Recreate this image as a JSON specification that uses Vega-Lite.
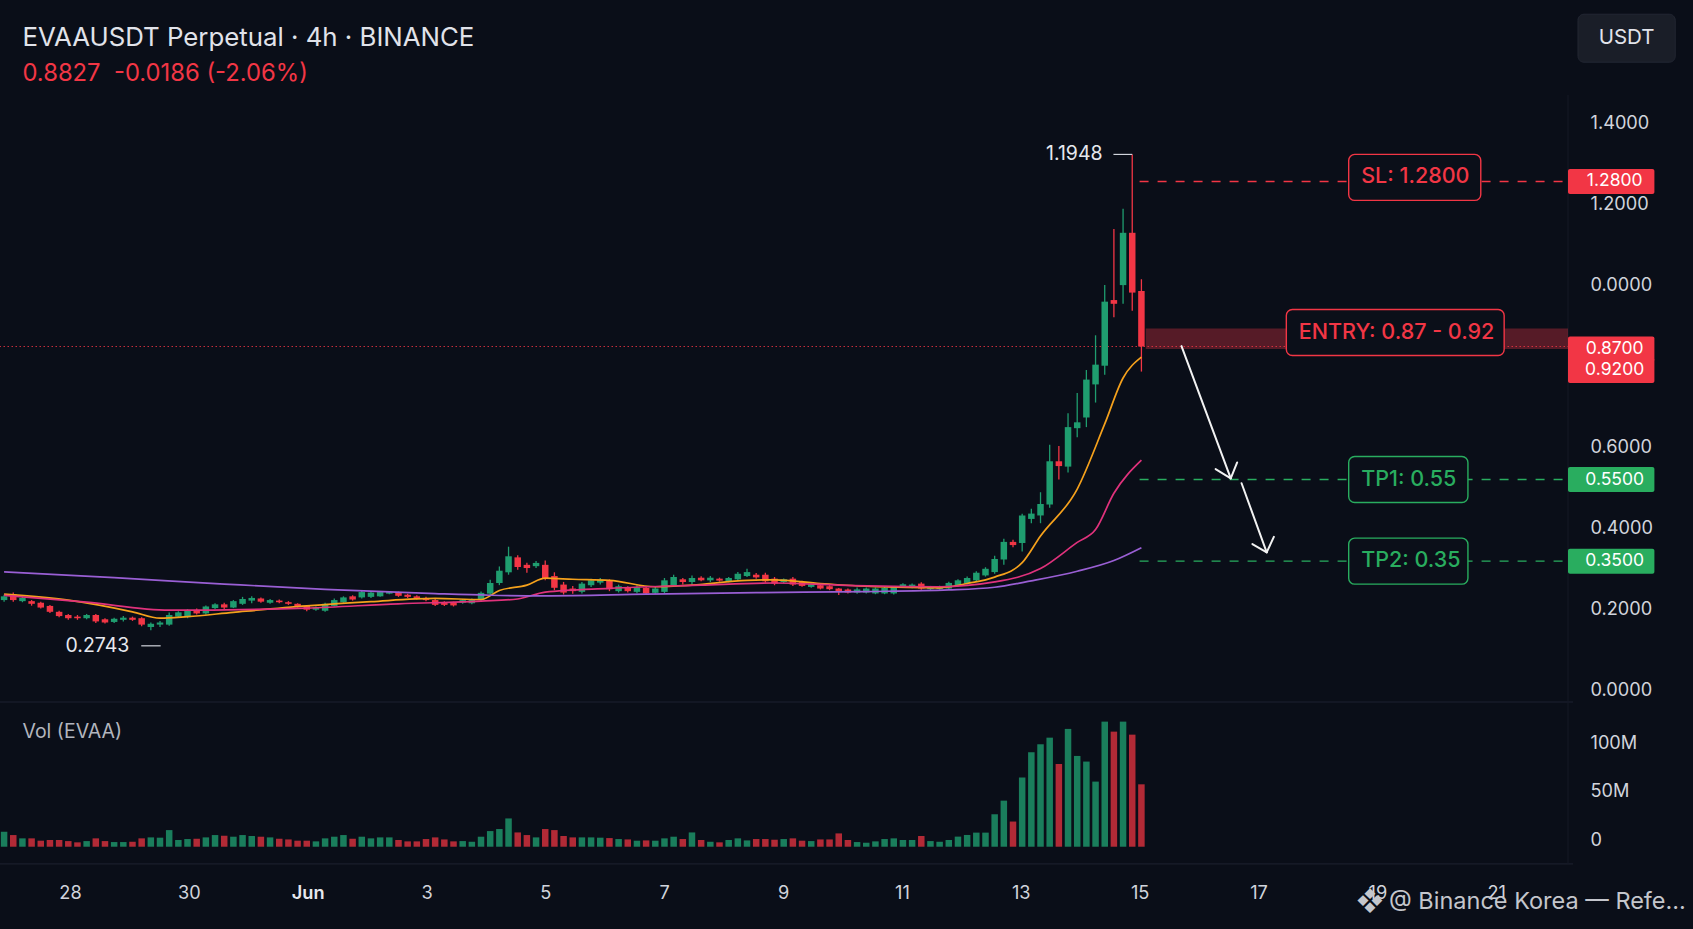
{
  "$schema": "https://vega.github.io/schema/vega-lite/v6.json",
  "description": "EVAAUSDT perpetual 4h candles with moving averages, volume pane and a short setup drawn on top (SL, entry zone, two targets).",
  "width": 1573,
  "height": 769,
  "autosize": {"type": "none"},
  "padding": {"left": 0, "top": 95, "right": 120, "bottom": 65},
  "background": "#0a0e18",
  "config": {"view": {"stroke": null}, "font": "Inter"},
  "datasets": {
    "candles": [
      {"bar":0,"open":0.360,"high":0.370,"low":0.357,"close":0.367,"volume":15400000},
      {"bar":1,"open":0.371,"high":0.374,"low":0.357,"close":0.360,"volume":12000000},
      {"bar":2,"open":0.358,"high":0.366,"low":0.356,"close":0.364,"volume":8600000},
      {"bar":3,"open":0.358,"high":0.360,"low":0.3495,"close":0.353,"volume":8600000},
      {"bar":4,"open":0.355,"high":0.357,"low":0.344,"close":0.346,"volume":6200000},
      {"bar":5,"open":0.349,"high":0.351,"low":0.336,"close":0.338,"volume":6900000},
      {"bar":6,"open":0.338,"high":0.340,"low":0.328,"close":0.330,"volume":6900000},
      {"bar":7,"open":0.332,"high":0.334,"low":0.323,"close":0.326,"volume":5800000},
      {"bar":8,"open":0.329,"high":0.332,"low":0.323,"close":0.326,"volume":4500000},
      {"bar":9,"open":0.326,"high":0.334,"low":0.324,"close":0.332,"volume":5800000},
      {"bar":10,"open":0.332,"high":0.334,"low":0.317,"close":0.320,"volume":8600000},
      {"bar":11,"open":0.324,"high":0.326,"low":0.316,"close":0.318,"volume":5800000},
      {"bar":12,"open":0.319,"high":0.327,"low":0.317,"close":0.325,"volume":4800000},
      {"bar":13,"open":0.323,"high":0.330,"low":0.320,"close":0.327,"volume":4800000},
      {"bar":14,"open":0.327,"high":0.329,"low":0.321,"close":0.323,"volume":5100000},
      {"bar":15,"open":0.326,"high":0.328,"low":0.311,"close":0.314,"volume":8600000},
      {"bar":16,"open":0.3095,"high":0.318,"low":0.3033,"close":0.3156,"volume":9600000},
      {"bar":17,"open":0.314,"high":0.321,"low":0.3095,"close":0.318,"volume":9300000},
      {"bar":18,"open":0.314,"high":0.3366,"low":0.312,"close":0.332,"volume":17100000},
      {"bar":19,"open":0.329,"high":0.339,"low":0.327,"close":0.337,"volume":6900000},
      {"bar":20,"open":0.328,"high":0.343,"low":0.326,"close":0.340,"volume":7900000},
      {"bar":21,"open":0.3415,"high":0.344,"low":0.333,"close":0.335,"volume":8200000},
      {"bar":22,"open":0.335,"high":0.350,"low":0.333,"close":0.348,"volume":9600000},
      {"bar":23,"open":0.345,"high":0.354,"low":0.343,"close":0.352,"volume":12000000},
      {"bar":24,"open":0.352,"high":0.355,"low":0.343,"close":0.346,"volume":11300000},
      {"bar":25,"open":0.346,"high":0.360,"low":0.345,"close":0.358,"volume":10300000},
      {"bar":26,"open":0.353,"high":0.366,"low":0.351,"close":0.362,"volume":12000000},
      {"bar":27,"open":0.359,"high":0.367,"low":0.354,"close":0.364,"volume":11000000},
      {"bar":28,"open":0.363,"high":0.365,"low":0.355,"close":0.357,"volume":10300000},
      {"bar":29,"open":0.355,"high":0.362,"low":0.353,"close":0.360,"volume":9600000},
      {"bar":30,"open":0.359,"high":0.361,"low":0.354,"close":0.356,"volume":8200000},
      {"bar":31,"open":0.356,"high":0.358,"low":0.351,"close":0.353,"volume":7500000},
      {"bar":32,"open":0.353,"high":0.354,"low":0.346,"close":0.348,"volume":6200000},
      {"bar":33,"open":0.349,"high":0.351,"low":0.339,"close":0.342,"volume":6200000},
      {"bar":34,"open":0.342,"high":0.348,"low":0.340,"close":0.346,"volume":5500000},
      {"bar":35,"open":0.340,"high":0.355,"low":0.338,"close":0.353,"volume":8600000},
      {"bar":36,"open":0.349,"high":0.363,"low":0.348,"close":0.360,"volume":10300000},
      {"bar":37,"open":0.356,"high":0.367,"low":0.355,"close":0.365,"volume":12000000},
      {"bar":38,"open":0.367,"high":0.369,"low":0.359,"close":0.361,"volume":8200000},
      {"bar":39,"open":0.365,"high":0.378,"low":0.363,"close":0.375,"volume":10300000},
      {"bar":40,"open":0.366,"high":0.376,"low":0.364,"close":0.374,"volume":8600000},
      {"bar":41,"open":0.367,"high":0.377,"low":0.366,"close":0.375,"volume":9600000},
      {"bar":42,"open":0.372,"high":0.377,"low":0.371,"close":0.375,"volume":9600000},
      {"bar":43,"open":0.374,"high":0.376,"low":0.366,"close":0.368,"volume":6900000},
      {"bar":44,"open":0.370,"high":0.372,"low":0.364,"close":0.366,"volume":5500000},
      {"bar":45,"open":0.367,"high":0.369,"low":0.361,"close":0.362,"volume":5500000},
      {"bar":46,"open":0.364,"high":0.366,"low":0.358,"close":0.360,"volume":7900000},
      {"bar":47,"open":0.360,"high":0.362,"low":0.349,"close":0.351,"volume":9600000},
      {"bar":48,"open":0.356,"high":0.358,"low":0.349,"close":0.351,"volume":7500000},
      {"bar":49,"open":0.355,"high":0.357,"low":0.348,"close":0.350,"volume":5500000},
      {"bar":50,"open":0.355,"high":0.362,"low":0.353,"close":0.360,"volume":5800000},
      {"bar":51,"open":0.354,"high":0.363,"low":0.352,"close":0.361,"volume":5100000},
      {"bar":52,"open":0.360,"high":0.376,"low":0.358,"close":0.3735,"volume":10300000},
      {"bar":53,"open":0.372,"high":0.398,"low":0.369,"close":0.392,"volume":16100000},
      {"bar":54,"open":0.392,"high":0.423,"low":0.388,"close":0.415,"volume":18200000},
      {"bar":55,"open":0.412,"high":0.460,"low":0.4075,"close":0.442,"volume":29100000},
      {"bar":56,"open":0.440,"high":0.444,"low":0.417,"close":0.422,"volume":14700000},
      {"bar":57,"open":0.426,"high":0.430,"low":0.411,"close":0.420,"volume":12000000},
      {"bar":58,"open":0.4235,"high":0.433,"low":0.420,"close":0.4296,"volume":9600000},
      {"bar":59,"open":0.426,"high":0.434,"low":0.397,"close":0.401,"volume":18200000},
      {"bar":60,"open":0.405,"high":0.412,"low":0.3785,"close":0.383,"volume":17100000},
      {"bar":61,"open":0.389,"high":0.394,"low":0.3705,"close":0.374,"volume":11000000},
      {"bar":62,"open":0.3816,"high":0.3865,"low":0.3717,"close":0.3767,"volume":9600000},
      {"bar":63,"open":0.3754,"high":0.3939,"low":0.3724,"close":0.3908,"volume":9600000},
      {"bar":64,"open":0.3878,"high":0.4001,"low":0.3847,"close":0.397,"volume":9600000},
      {"bar":65,"open":0.3927,"high":0.4013,"low":0.389,"close":0.3982,"volume":9300000},
      {"bar":66,"open":0.3958,"high":0.3988,"low":0.3767,"close":0.3804,"volume":8900000},
      {"bar":67,"open":0.3767,"high":0.389,"low":0.3742,"close":0.3859,"volume":7900000},
      {"bar":68,"open":0.3841,"high":0.3859,"low":0.3742,"close":0.3767,"volume":7500000},
      {"bar":69,"open":0.3754,"high":0.3878,"low":0.373,"close":0.3841,"volume":6200000},
      {"bar":70,"open":0.3828,"high":0.3847,"low":0.3705,"close":0.3724,"volume":6500000},
      {"bar":71,"open":0.3736,"high":0.3847,"low":0.3717,"close":0.3816,"volume":6200000},
      {"bar":72,"open":0.3754,"high":0.4013,"low":0.3724,"close":0.397,"volume":8600000},
      {"bar":73,"open":0.3878,"high":0.4075,"low":0.3865,"close":0.4032,"volume":10300000},
      {"bar":74,"open":0.3989,"high":0.4013,"low":0.389,"close":0.3939,"volume":7900000},
      {"bar":75,"open":0.3939,"high":0.4062,"low":0.389,"close":0.4013,"volume":14700000},
      {"bar":76,"open":0.4019,"high":0.4044,"low":0.3952,"close":0.397,"volume":6900000},
      {"bar":77,"open":0.397,"high":0.405,"low":0.3939,"close":0.4019,"volume":5100000},
      {"bar":78,"open":0.4001,"high":0.402,"low":0.3945,"close":0.3964,"volume":4500000},
      {"bar":79,"open":0.3952,"high":0.403,"low":0.3935,"close":0.4013,"volume":6900000},
      {"bar":80,"open":0.3989,"high":0.4124,"low":0.397,"close":0.4093,"volume":8600000},
      {"bar":81,"open":0.405,"high":0.4186,"low":0.4032,"close":0.4124,"volume":6500000},
      {"bar":82,"open":0.4075,"high":0.4106,"low":0.4001,"close":0.4025,"volume":7900000},
      {"bar":83,"open":0.4075,"high":0.4112,"low":0.3927,"close":0.3952,"volume":7900000},
      {"bar":84,"open":0.4001,"high":0.4032,"low":0.3878,"close":0.3908,"volume":7200000},
      {"bar":85,"open":0.3939,"high":0.4005,"low":0.392,"close":0.3989,"volume":7900000},
      {"bar":86,"open":0.4001,"high":0.4032,"low":0.3865,"close":0.389,"volume":8600000},
      {"bar":87,"open":0.3939,"high":0.396,"low":0.385,"close":0.3865,"volume":6200000},
      {"bar":88,"open":0.3847,"high":0.3915,"low":0.383,"close":0.3896,"volume":5800000},
      {"bar":89,"open":0.3878,"high":0.3895,"low":0.38,"close":0.3816,"volume":7500000},
      {"bar":90,"open":0.3859,"high":0.3878,"low":0.3785,"close":0.3804,"volume":7500000},
      {"bar":91,"open":0.3816,"high":0.3828,"low":0.3693,"close":0.3754,"volume":13700000},
      {"bar":92,"open":0.3798,"high":0.3815,"low":0.3725,"close":0.3742,"volume":6900000},
      {"bar":93,"open":0.3742,"high":0.3835,"low":0.372,"close":0.38,"volume":4800000},
      {"bar":94,"open":0.3742,"high":0.3835,"low":0.3725,"close":0.3816,"volume":4100000},
      {"bar":95,"open":0.3724,"high":0.3835,"low":0.371,"close":0.3816,"volume":5500000},
      {"bar":96,"open":0.3724,"high":0.385,"low":0.371,"close":0.3828,"volume":7900000},
      {"bar":97,"open":0.3724,"high":0.3865,"low":0.3705,"close":0.3847,"volume":8600000},
      {"bar":98,"open":0.3841,"high":0.3915,"low":0.3825,"close":0.3896,"volume":6900000},
      {"bar":99,"open":0.3835,"high":0.391,"low":0.382,"close":0.389,"volume":6900000},
      {"bar":100,"open":0.3908,"high":0.3935,"low":0.3795,"close":0.3816,"volume":11000000},
      {"bar":101,"open":0.3804,"high":0.3865,"low":0.379,"close":0.3847,"volume":5800000},
      {"bar":102,"open":0.3806,"high":0.387,"low":0.3795,"close":0.3849,"volume":5100000},
      {"bar":103,"open":0.3816,"high":0.3945,"low":0.38,"close":0.3921,"volume":6900000},
      {"bar":104,"open":0.3865,"high":0.399,"low":0.385,"close":0.397,"volume":10400000},
      {"bar":105,"open":0.3908,"high":0.404,"low":0.389,"close":0.4013,"volume":12100000},
      {"bar":106,"open":0.397,"high":0.414,"low":0.395,"close":0.4112,"volume":14500000},
      {"bar":107,"open":0.4062,"high":0.4215,"low":0.404,"close":0.4186,"volume":14500000},
      {"bar":108,"open":0.4124,"high":0.4432,"low":0.4093,"close":0.437,"volume":33400000},
      {"bar":109,"open":0.436,"high":0.475,"low":0.426,"close":0.469,"volume":47400000},
      {"bar":110,"open":0.469,"high":0.473,"low":0.459,"close":0.463,"volume":25900000},
      {"bar":111,"open":0.467,"high":0.5215,"low":0.451,"close":0.5185,"volume":71100000},
      {"bar":112,"open":0.512,"high":0.531,"low":0.504,"close":0.522,"volume":97200000},
      {"bar":113,"open":0.5185,"high":0.562,"low":0.504,"close":0.54,"volume":105400000},
      {"bar":114,"open":0.539,"high":0.651,"low":0.533,"close":0.62,"volume":112200000},
      {"bar":115,"open":0.62,"high":0.6485,"low":0.586,"close":0.611,"volume":85100000},
      {"bar":116,"open":0.61,"high":0.71,"low":0.599,"close":0.684,"volume":121200000},
      {"bar":117,"open":0.682,"high":0.748,"low":0.665,"close":0.693,"volume":93400000},
      {"bar":118,"open":0.702,"high":0.791,"low":0.684,"close":0.773,"volume":87600000},
      {"bar":119,"open":0.764,"high":0.856,"low":0.73,"close":0.801,"volume":67000000},
      {"bar":120,"open":0.799,"high":0.95,"low":0.782,"close":0.919,"volume":128700000},
      {"bar":121,"open":0.922,"high":1.055,"low":0.89,"close":0.915,"volume":118400000},
      {"bar":122,"open":0.95,"high":1.093,"low":0.915,"close":1.048,"volume":128700000},
      {"bar":123,"open":1.048,"high":1.1948,"low":0.902,"close":0.936,"volume":115300000},
      {"bar":124,"open":0.939,"high":0.961,"low":0.788,"close":0.835,"volume":64200000}
    ],
    "ma": [
      {"bar":0,"line":"fast","value":0.371},{"bar":7,"line":"fast","value":0.360},{"bar":14,"line":"fast","value":0.338},
      {"bar":17,"line":"fast","value":0.326},{"bar":20,"line":"fast","value":0.329},{"bar":25,"line":"fast","value":0.337},
      {"bar":33,"line":"fast","value":0.349},{"bar":40,"line":"fast","value":0.357},{"bar":47,"line":"fast","value":0.363},
      {"bar":52,"line":"fast","value":0.361},{"bar":54,"line":"fast","value":0.378},{"bar":57,"line":"fast","value":0.388},
      {"bar":59,"line":"fast","value":0.401},{"bar":62,"line":"fast","value":0.399},{"bar":66,"line":"fast","value":0.397},
      {"bar":71,"line":"fast","value":0.385},{"bar":75,"line":"fast","value":0.388},{"bar":81,"line":"fast","value":0.397},
      {"bar":84,"line":"fast","value":0.398},{"bar":89,"line":"fast","value":0.391},{"bar":95,"line":"fast","value":0.385},
      {"bar":102,"line":"fast","value":0.383},{"bar":105,"line":"fast","value":0.391},{"bar":108,"line":"fast","value":0.403},
      {"bar":111,"line":"fast","value":0.430},{"bar":113,"line":"fast","value":0.480},{"bar":117,"line":"fast","value":0.568},
      {"bar":120,"line":"fast","value":0.690},{"bar":122,"line":"fast","value":0.776},{"bar":124,"line":"fast","value":0.815},
      {"bar":0,"line":"mid","value":0.369},{"bar":9,"line":"mid","value":0.356},{"bar":18,"line":"mid","value":0.341},
      {"bar":33,"line":"mid","value":0.345},{"bar":43,"line":"mid","value":0.353},{"bar":52,"line":"mid","value":0.358},
      {"bar":56,"line":"mid","value":0.362},{"bar":59,"line":"mid","value":0.375},{"bar":66,"line":"mid","value":0.382},
      {"bar":76,"line":"mid","value":0.388},{"bar":84,"line":"mid","value":0.392},{"bar":91,"line":"mid","value":0.388},
      {"bar":102,"line":"mid","value":0.385},{"bar":108,"line":"mid","value":0.394},{"bar":113,"line":"mid","value":0.419},
      {"bar":117,"line":"mid","value":0.468},{"bar":119,"line":"mid","value":0.492},{"bar":121,"line":"mid","value":0.560},
      {"bar":124,"line":"mid","value":0.622},
      {"bar":0,"line":"slow","value":0.413},{"bar":12,"line":"slow","value":0.402},{"bar":24,"line":"slow","value":0.390},
      {"bar":35,"line":"slow","value":0.380},{"bar":47,"line":"slow","value":0.372},{"bar":53,"line":"slow","value":0.369},
      {"bar":59,"line":"slow","value":0.368},{"bar":70,"line":"slow","value":0.371},{"bar":82,"line":"slow","value":0.374},
      {"bar":94,"line":"slow","value":0.376},{"bar":103,"line":"slow","value":0.379},{"bar":108,"line":"slow","value":0.384},
      {"bar":112,"line":"slow","value":0.396},{"bar":117,"line":"slow","value":0.414},{"bar":121,"line":"slow","value":0.434},
      {"bar":124,"line":"slow","value":0.458}
    ],
    "days": [
      {"bar":7.24,"day":"28"},{"bar":20.2,"day":"30"},{"bar":33.15,"day":"Jun"},{"bar":46.11,"day":"3"},
      {"bar":59.07,"day":"5"},{"bar":72.03,"day":"7"},{"bar":84.99,"day":"9"},{"bar":97.94,"day":"11"},
      {"bar":110.9,"day":"13"},{"bar":123.86,"day":"15"},{"bar":136.82,"day":"17"},{"bar":149.78,"day":"19"},
      {"bar":162.73,"day":"21"}
    ],
    "extremes": [
      {"kind":"high","bar":123,"price":1.1948},
      {"kind":"low","bar":16,"price":0.2743}
    ],
    "levels": [
      {"level":1.28,"side":"risk"},
      {"level":0.55,"side":"target"},
      {"level":0.35,"side":"target"}
    ],
    "notes": [
      {"label":"SL: 1.2800","at":1.29,"fromBar":146.6,"toBar":161.0,"side":"risk"},
      {"label":"ENTRY: 0.87 - 0.92","at":0.91,"fromBar":139.8,"toBar":163.55,"side":"risk"},
      {"label":"TP1: 0.55","at":0.55,"fromBar":146.6,"toBar":159.6,"side":"target"},
      {"label":"TP2: 0.35","at":0.35,"fromBar":146.6,"toBar":159.6,"side":"target"}
    ],
    "arrows": [
      {"fromBar":128.37,"fromPrice":0.8769,"toBar":133.74,"toPrice":0.5529},
      {"fromBar":133.74,"fromPrice":0.5529,"toBar":132.09,"toPrice":0.5756},
      {"fromBar":133.74,"fromPrice":0.5529,"toBar":134.44,"toPrice":0.5918},
      {"fromBar":134.92,"fromPrice":0.5409,"toBar":137.66,"toPrice":0.3717},
      {"fromBar":137.66,"fromPrice":0.3717,"toBar":136.10,"toPrice":0.3918},
      {"fromBar":137.66,"fromPrice":0.3717,"toBar":138.44,"toPrice":0.4095}
    ],
    "badges": [
      {"level":1.28,"side":"risk"},
      {"level":0.87,"side":"risk"},
      {"level":0.92,"side":"risk"},
      {"level":0.55,"side":"target"},
      {"level":0.35,"side":"target"}
    ]
  },
  "layer": [
    {
      "layer": [
        {
          "data": {"values": [{}]},
          "mark": {"type": "rule", "color": "#1c2130", "strokeWidth": 1.2},
          "encoding": {
            "y": {"datum": 148890000, "type": "quantitative", "scale": {"domain": [-17780000, 773380000], "nice": false, "zero": false}, "axis": null}
          }
        },
        {
          "data": {"values": [{}]},
          "mark": {"type": "rule", "color": "#1a1e2b", "strokeWidth": 1.2},
          "encoding": {
            "y": {"datum": -17700000, "type": "quantitative", "scale": {"domain": [-17780000, 773380000], "nice": false, "zero": false}, "axis": null}
          }
        },
        {
          "data": {"values": [{}]},
          "mark": {"type": "rule", "color": "#151925", "strokeWidth": 1},
          "encoding": {
            "x": {"datum": 170.51, "type": "quantitative", "scale": {"domain": [0.0995, 170.51], "nice": false, "zero": false}, "axis": null}
          }
        },
        {
          "data": {"name": "candles"},
          "mark": {"type": "bar", "orient": "vertical", "size": 6.5, "opacity": 0.78},
          "encoding": {
            "x": {"field": "bar", "type": "quantitative", "scale": {"domain": [0.0995, 170.51], "nice": false, "zero": false}, "axis": null},
            "y": {"field": "volume", "type": "quantitative", "scale": {"domain": [-17780000, 773380000], "nice": false, "zero": false}, "axis": null},
            "y2": {"datum": 0},
            "color": {"condition": {"test": "datum.close >= datum.open", "value": "#1f9d6f"}, "value": "#e2323f"}
          }
        },
        {
          "data": {"name": "days"},
          "transform": [{"filter": "datum.day != 'Jun'"}],
          "mark": {"type": "text", "align": "center", "baseline": "middle", "fontSize": 18.2, "color": "#d1d4dc"},
          "encoding": {
            "x": {"field": "bar", "type": "quantitative", "scale": {"domain": [0.0995, 170.51], "nice": false, "zero": false}, "axis": null},
            "y": {"datum": -48890000, "type": "quantitative", "scale": {"domain": [-17780000, 773380000], "nice": false, "zero": false}, "axis": null},
            "text": {"field": "day"}
          }
        },
        {
          "data": {"name": "days"},
          "transform": [{"filter": "datum.day == 'Jun'"}],
          "mark": {"type": "text", "align": "center", "baseline": "middle", "fontSize": 18.2, "fontWeight": 600, "color": "#e6e8ee"},
          "encoding": {
            "x": {"field": "bar", "type": "quantitative", "scale": {"domain": [0.0995, 170.51], "nice": false, "zero": false}, "axis": null},
            "y": {"datum": -48890000, "type": "quantitative", "scale": {"domain": [-17780000, 773380000], "nice": false, "zero": false}, "axis": null},
            "text": {"field": "day"}
          }
        },
        {
          "data": {"values": [{"label": "Vol (EVAA)"}]},
          "mark": {"type": "text", "align": "left", "baseline": "middle", "fontSize": 19.5, "color": "#b2b5be"},
          "encoding": {
            "x": {"datum": 2.0, "type": "quantitative", "scale": {"domain": [0.0995, 170.51], "nice": false, "zero": false}, "axis": null},
            "y": {"datum": 117780000, "type": "quantitative", "scale": {"domain": [-17780000, 773380000], "nice": false, "zero": false}, "axis": null},
            "text": {"field": "label"}
          }
        },
        {
          "data": {"values": [{"mark": "❖"}]},
          "mark": {"type": "text", "align": "center", "baseline": "middle", "fontSize": 26, "color": "#c4c6cc"},
          "encoding": {
            "x": {"datum": 148.9, "type": "quantitative", "scale": {"domain": [0.0995, 170.51], "nice": false, "zero": false}, "axis": null},
            "y": {"datum": -56670000, "type": "quantitative", "scale": {"domain": [-17780000, 773380000], "nice": false, "zero": false}, "axis": null},
            "text": {"field": "mark"}
          }
        },
        {
          "data": {"values": [{"label": "@ Binance Korea — Refe..."}]},
          "mark": {"type": "text", "align": "left", "baseline": "middle", "fontSize": 23.5, "color": "#c4c6cc"},
          "encoding": {
            "x": {"datum": 151.0, "type": "quantitative", "scale": {"domain": [0.0995, 170.51], "nice": false, "zero": false}, "axis": null},
            "y": {"datum": -56670000, "type": "quantitative", "scale": {"domain": [-17780000, 773380000], "nice": false, "zero": false}, "axis": null},
            "text": {"field": "label"}
          }
        }
      ]
    },
    {
      "layer": [
        {
          "data": {"name": "candles"},
          "transform": [{"filter": "datum.bar == 124"}],
          "mark": {"type": "rule", "color": "#f23645", "strokeDash": [1.5, 2.5], "strokeWidth": 1, "opacity": 0.8},
          "encoding": {
            "y": {"field": "close", "type": "quantitative", "scale": {"domain": [-0.12504, 1.29676], "nice": false, "zero": false}, "axis": null}
          }
        },
        {
          "data": {"name": "candles"},
          "mark": {"type": "rule", "strokeWidth": 1.3},
          "encoding": {
            "x": {"field": "bar", "type": "quantitative", "scale": {"domain": [0.0995, 170.51], "nice": false, "zero": false}, "axis": null},
            "y": {"field": "low", "type": "quantitative", "scale": {"domain": [-0.12504, 1.29676], "nice": false, "zero": false}, "axis": null},
            "y2": {"field": "high"},
            "color": {"condition": {"test": "datum.close >= datum.open", "value": "#1f9d6f"}, "value": "#f23645"}
          }
        },
        {
          "data": {"name": "candles"},
          "mark": {"type": "bar", "orient": "vertical", "size": 6.5},
          "encoding": {
            "x": {"field": "bar", "type": "quantitative", "scale": {"domain": [0.0995, 170.51], "nice": false, "zero": false}, "axis": null},
            "y": {"field": "open", "type": "quantitative", "scale": {"domain": [-0.12504, 1.29676], "nice": false, "zero": false}, "axis": null},
            "y2": {"field": "close"},
            "color": {"condition": {"test": "datum.close >= datum.open", "value": "#1f9d6f"}, "value": "#f23645"}
          }
        },
        {
          "data": {"name": "ma"},
          "mark": {"type": "line", "strokeWidth": 1.7, "interpolate": "monotone"},
          "encoding": {
            "x": {"field": "bar", "type": "quantitative", "scale": {"domain": [0.0995, 170.51], "nice": false, "zero": false}, "axis": null},
            "y": {"field": "value", "type": "quantitative", "scale": {"domain": [-0.12504, 1.29676], "nice": false, "zero": false}, "axis": null},
            "color": {"field": "line", "type": "nominal", "scale": {"domain": ["fast", "mid", "slow"], "range": ["#f5a11c", "#e0327c", "#9a5fd4"]}, "legend": null}
          }
        },
        {
          "data": {"name": "extremes"},
          "transform": [{"filter": "datum.kind == 'high'"}],
          "layer": [
            {
              "mark": {"type": "rule", "color": "#d1d4dc", "strokeWidth": 1.2, "xOffset": -18.8, "x2Offset": 0},
              "encoding": {
                "x": {"field": "bar", "type": "quantitative", "scale": {"domain": [0.0995, 170.51], "nice": false, "zero": false}, "axis": null},
                "x2": {"field": "bar"},
                "y": {"field": "price", "type": "quantitative", "scale": {"domain": [-0.12504, 1.29676], "nice": false, "zero": false}, "axis": null}
              }
            },
            {
              "mark": {"type": "text", "align": "right", "baseline": "middle", "dx": -29.6, "fontSize": 19.5, "color": "#e6e8ee"},
              "encoding": {
                "x": {"field": "bar", "type": "quantitative", "scale": {"domain": [0.0995, 170.51], "nice": false, "zero": false}, "axis": null},
                "y": {"field": "price", "type": "quantitative", "scale": {"domain": [-0.12504, 1.29676], "nice": false, "zero": false}, "axis": null},
                "text": {"field": "price", "format": ".4f"}
              }
            }
          ]
        },
        {
          "data": {"name": "extremes"},
          "transform": [{"filter": "datum.kind == 'low'"}],
          "layer": [
            {
              "mark": {"type": "rule", "color": "#d1d4dc", "strokeWidth": 1.2, "xOffset": -9.6, "x2Offset": 9.8},
              "encoding": {
                "x": {"field": "bar", "type": "quantitative", "scale": {"domain": [0.0995, 170.51], "nice": false, "zero": false}, "axis": null},
                "x2": {"field": "bar"},
                "y": {"field": "price", "type": "quantitative", "scale": {"domain": [-0.12504, 1.29676], "nice": false, "zero": false}, "axis": null}
              }
            },
            {
              "mark": {"type": "text", "align": "right", "baseline": "middle", "dx": -21.5, "fontSize": 19.5, "color": "#e6e8ee"},
              "encoding": {
                "x": {"field": "bar", "type": "quantitative", "scale": {"domain": [0.0995, 170.51], "nice": false, "zero": false}, "axis": null},
                "y": {"field": "price", "type": "quantitative", "scale": {"domain": [-0.12504, 1.29676], "nice": false, "zero": false}, "axis": null},
                "text": {"field": "price", "format": ".4f"}
              }
            }
          ]
        },
        {
          "data": {"values": [{"label": "EVAAUSDT Perpetual · 4h · BINANCE"}]},
          "mark": {"type": "text", "align": "left", "baseline": "middle", "fontSize": 25.8, "color": "#e1e3ea"},
          "encoding": {
            "x": {"datum": 2.0, "type": "quantitative", "scale": {"domain": [0.0995, 170.51], "nice": false, "zero": false}, "axis": null},
            "y": {"datum": 1.4125, "type": "quantitative", "scale": {"domain": [-0.12504, 1.29676], "nice": false, "zero": false}, "axis": null},
            "text": {"field": "label"}
          }
        },
        {
          "data": {"values": [{"label": "0.8827\u00a0\u00a0-0.0186 (-2.06%)"}]},
          "mark": {"type": "text", "align": "left", "baseline": "middle", "fontSize": 23.8, "color": "#f23645"},
          "encoding": {
            "x": {"datum": 2.0, "type": "quantitative", "scale": {"domain": [0.0995, 170.51], "nice": false, "zero": false}, "axis": null},
            "y": {"datum": 1.3446, "type": "quantitative", "scale": {"domain": [-0.12504, 1.29676], "nice": false, "zero": false}, "axis": null},
            "text": {"field": "label"}
          }
        },
        {
          "data": {"values": [{"unit": "USDT"}]},
          "mark": {"type": "bar", "orient": "horizontal", "size": 48, "cornerRadius": 6, "fill": "#1a1e28", "stroke": "#232733", "strokeWidth": 1},
          "encoding": {
            "x": {"datum": 171.6, "type": "quantitative", "scale": {"domain": [0.0995, 170.51], "nice": false, "zero": false}, "axis": null},
            "x2": {"datum": 182.2},
            "y": {"datum": 1.4125, "type": "quantitative", "scale": {"domain": [-0.12504, 1.29676], "nice": false, "zero": false}, "axis": null}
          }
        },
        {
          "data": {"values": [{"unit": "USDT"}]},
          "mark": {"type": "text", "align": "center", "baseline": "middle", "fontSize": 20.5, "color": "#e1e3ea"},
          "encoding": {
            "x": {"datum": 176.9, "type": "quantitative", "scale": {"domain": [0.0995, 170.51], "nice": false, "zero": false}, "axis": null},
            "y": {"datum": 1.4125, "type": "quantitative", "scale": {"domain": [-0.12504, 1.29676], "nice": false, "zero": false}, "axis": null},
            "text": {"field": "unit"}
          }
        }
      ]
    },
    {
      "layer": [
        {
          "data": {"values": [{"zone": "entry", "low": 0.87, "high": 0.92}]},
          "mark": {"type": "rect", "color": "#f23645", "opacity": 0.33},
          "encoding": {
            "x": {"datum": 124.47, "type": "quantitative", "scale": {"domain": [0.0995, 170.51], "nice": false, "zero": false}, "axis": null},
            "x2": {"datum": 170.51},
            "y": {"field": "low", "type": "quantitative", "scale": {"domain": [-0.3795, 1.47961], "nice": false, "zero": false}, "axis": null},
            "y2": {"field": "high"}
          }
        },
        {
          "data": {"name": "levels"},
          "mark": {"type": "rule", "strokeDash": [9, 9], "strokeWidth": 1.4},
          "encoding": {
            "x": {"datum": 123.8, "type": "quantitative", "scale": {"domain": [0.0995, 170.51], "nice": false, "zero": false}, "axis": null},
            "x2": {"datum": 170.51},
            "y": {"field": "level", "type": "quantitative", "scale": {"domain": [-0.3795, 1.47961], "nice": false, "zero": false}, "axis": null},
            "color": {"field": "side", "type": "nominal", "scale": {"domain": ["risk", "target"], "range": ["#f23645", "#29ad5f"]}, "legend": null}
          }
        },
        {
          "data": {"name": "notes"},
          "mark": {"type": "bar", "orient": "horizontal", "size": 46, "cornerRadius": 6, "fill": "#0b0f19", "strokeWidth": 1.4},
          "encoding": {
            "x": {"field": "fromBar", "type": "quantitative", "scale": {"domain": [0.0995, 170.51], "nice": false, "zero": false}, "axis": null},
            "x2": {"field": "toBar"},
            "y": {"field": "at", "type": "quantitative", "scale": {"domain": [-0.3795, 1.47961], "nice": false, "zero": false}, "axis": null},
            "stroke": {"field": "side", "type": "nominal", "scale": {"domain": ["risk", "target"], "range": ["#f23645", "#29ad5f"]}, "legend": null}
          }
        },
        {
          "data": {"name": "notes"},
          "mark": {"type": "text", "align": "left", "baseline": "middle", "dx": 12.5, "fontSize": 21.5, "fontWeight": 500},
          "encoding": {
            "x": {"field": "fromBar", "type": "quantitative", "scale": {"domain": [0.0995, 170.51], "nice": false, "zero": false}, "axis": null},
            "y": {"field": "at", "type": "quantitative", "scale": {"domain": [-0.3795, 1.47961], "nice": false, "zero": false}, "axis": null},
            "text": {"field": "label"},
            "color": {"field": "side", "type": "nominal", "scale": {"domain": ["risk", "target"], "range": ["#f23645", "#29ad5f"]}, "legend": null}
          }
        },
        {
          "data": {"name": "arrows"},
          "mark": {"type": "rule", "color": "#f2f2f2", "strokeWidth": 2, "strokeCap": "round"},
          "encoding": {
            "x": {"field": "fromBar", "type": "quantitative", "scale": {"domain": [0.0995, 170.51], "nice": false, "zero": false}, "axis": null},
            "y": {"field": "fromPrice", "type": "quantitative", "scale": {"domain": [-0.3795, 1.47961], "nice": false, "zero": false}, "axis": null},
            "x2": {"field": "toBar"},
            "y2": {"field": "toPrice"}
          }
        },
        {
          "data": {"name": "badges"},
          "transform": [{"filter": "datum.level != 0.92"}],
          "layer": [
            {
              "mark": {"type": "bar", "orient": "horizontal", "size": 25, "cornerRadius": 2},
              "encoding": {
                "x": {"datum": 170.51, "type": "quantitative", "scale": {"domain": [0.0995, 170.51], "nice": false, "zero": false}, "axis": null},
                "x2": {"datum": 179.93},
                "y": {"field": "level", "type": "quantitative", "scale": {"domain": [-0.3795, 1.47961], "nice": false, "zero": false}, "axis": null},
                "color": {"field": "side", "type": "nominal", "scale": {"domain": ["risk", "target"], "range": ["#f23645", "#29ad5f"]}, "legend": null}
              }
            },
            {
              "mark": {"type": "text", "align": "center", "baseline": "middle", "fontSize": 17.5, "color": "#ffffff"},
              "encoding": {
                "x": {"datum": 175.6, "type": "quantitative", "scale": {"domain": [0.0995, 170.51], "nice": false, "zero": false}, "axis": null},
                "y": {"field": "level", "type": "quantitative", "scale": {"domain": [-0.3795, 1.47961], "nice": false, "zero": false}, "axis": null},
                "text": {"field": "level", "format": ".4f"}
              }
            }
          ]
        },
        {
          "data": {"name": "badges"},
          "transform": [{"filter": "datum.level == 0.92"}],
          "layer": [
            {
              "mark": {"type": "bar", "orient": "horizontal", "size": 25, "cornerRadius": 2, "yOffset": 42, "color": "#f23645"},
              "encoding": {
                "x": {"datum": 170.51, "type": "quantitative", "scale": {"domain": [0.0995, 170.51], "nice": false, "zero": false}, "axis": null},
                "x2": {"datum": 179.93},
                "y": {"field": "level", "type": "quantitative", "scale": {"domain": [-0.3795, 1.47961], "nice": false, "zero": false}, "axis": null}
              }
            },
            {
              "mark": {"type": "text", "align": "center", "baseline": "middle", "fontSize": 17.5, "color": "#ffffff", "yOffset": 42},
              "encoding": {
                "x": {"datum": 175.6, "type": "quantitative", "scale": {"domain": [0.0995, 170.51], "nice": false, "zero": false}, "axis": null},
                "y": {"field": "level", "type": "quantitative", "scale": {"domain": [-0.3795, 1.47961], "nice": false, "zero": false}, "axis": null},
                "text": {"field": "level", "format": ".4f"}
              }
            }
          ]
        }
      ]
    },
    {
      "data": {"values": [{"tick": 0}, {"tick": 0.2}, {"tick": 0.4}, {"tick": 0.6}, {"tick": 1.0}, {"tick": 1.2}, {"tick": 1.4}]},
      "mark": {"type": "tick", "opacity": 0},
      "encoding": {
        "y": {
          "field": "tick", "type": "quantitative",
          "scale": {"domain": [-0.42838, 1.4709], "nice": false, "zero": false},
          "axis": {
            "orient": "right", "title": null, "grid": false, "domain": false, "ticks": false, "tickSize": 0,
            "values": [0, 0.2, 0.4, 0.6, 1, 1.2, 1.4],
            "labelExpr": "datum.value == 1 ? '0.0000' : format(datum.value, '.4f')",
            "labelPadding": 17, "labelAlign": "left", "labelBaseline": "middle",
            "labelColor": "#d1d4dc", "labelFontSize": 18.2
          }
        }
      }
    },
    {
      "data": {"name": "candles"},
      "mark": {"type": "tick", "opacity": 0},
      "encoding": {
        "y": {
          "field": "volume", "type": "quantitative",
          "scale": {"domain": [-17780000, 773380000], "nice": false, "zero": false},
          "axis": {
            "orient": "right", "title": null, "grid": false, "domain": false, "ticks": false, "tickSize": 0,
            "values": [0, 50000000, 100000000],
            "labelExpr": "datum.value == 0 ? '0' : (datum.value / 1000000) + 'M'",
            "labelPadding": 17, "labelAlign": "left", "labelBaseline": "middle", "labelOffset": -6.5,
            "labelColor": "#d1d4dc", "labelFontSize": 18.2
          }
        }
      }
    }
  ],
  "resolve": {"scale": {"y": "independent", "color": "independent", "stroke": "independent"}, "axis": {"y": "independent"}}
}
